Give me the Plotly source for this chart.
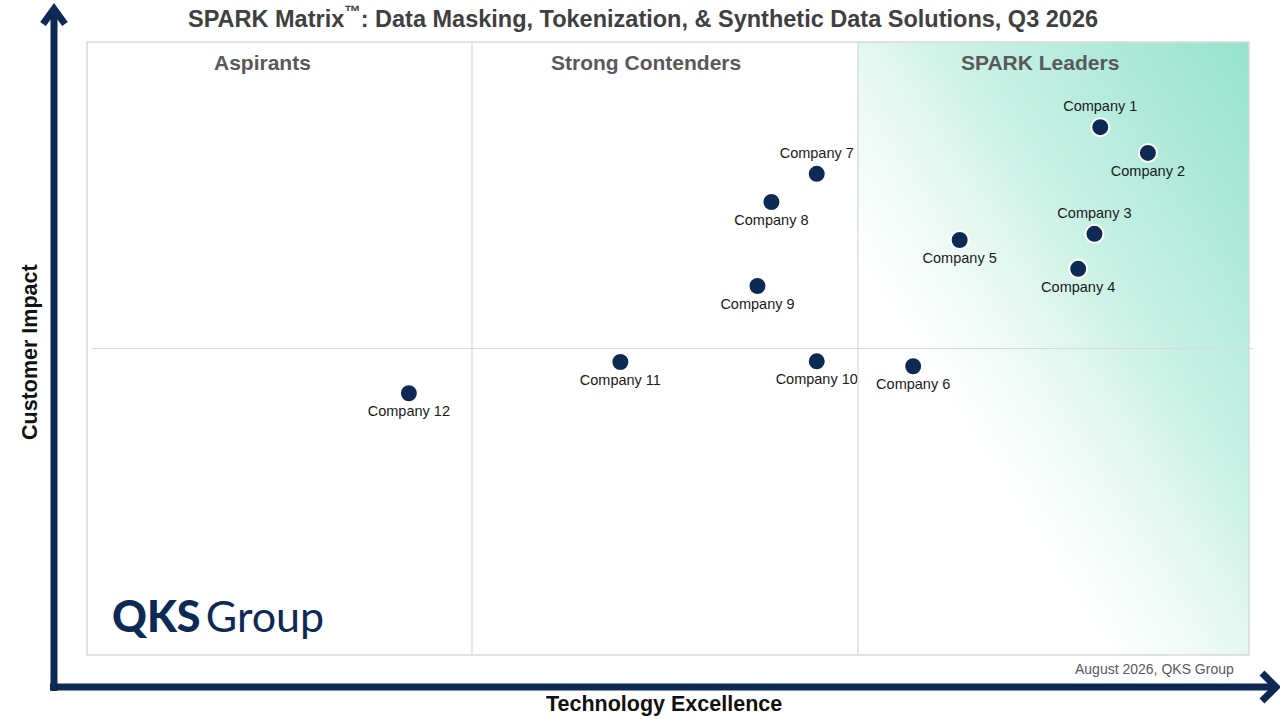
import base64
import plotly.graph_objects as go

# vendor positions (0-100 on both axes)
companies = ["Company 1", "Company 2", "Company 3", "Company 4", "Company 5", "Company 6",
             "Company 7", "Company 8", "Company 9", "Company 10", "Company 11", "Company 12"]
tech_excellence = [87.2, 91.3, 86.7, 85.3, 75.1, 71.1, 62.8, 58.9, 57.7, 62.8, 45.9, 27.7]
customer_impact = [86.1, 81.9, 68.7, 63.0, 67.7, 47.1, 78.5, 73.9, 60.2, 47.9, 47.8, 42.7]

quadrants = ["Aspirants", "Strong Contenders", "SPARK Leaders"]

# where each label sits relative to its dot
label_side = ["top center", "bottom center", "top center", "bottom center", "bottom center",
              "bottom center", "top center", "bottom center", "bottom center", "bottom center",
              "bottom center", "bottom center"]

NAVY = "#0d2a55"
FONT = "Arial, Liberation Sans, sans-serif"

W, H = 1280, 720
L, R, T, B = 87, 31, 42, 65


def px(x):
    return (x - L) / (W - L - R)


def py(y):
    return (H - B - y) / (H - T - B)


# quadrant borders on the x scale
cut_low, cut_high = 33.13, 66.35

# teal wash for the leaders quadrant
svg = """<svg xmlns="http://www.w3.org/2000/svg" width="100" height="100" viewBox="0 0 100 100" preserveAspectRatio="none">
<defs><linearGradient id="g" x1="1" y1="0" x2="0" y2="1">
<stop offset="0" stop-color="#97e3cd"/>
<stop offset="0.35" stop-color="#c6f0e3"/>
<stop offset="0.55" stop-color="#eefaf6"/>
<stop offset="0.68" stop-color="#ffffff"/>
<stop offset="1" stop-color="#ffffff"/>
</linearGradient></defs>
<rect x="0" y="0" width="100" height="100" fill="url(#g)"/></svg>"""
svg_uri = "data:image/svg+xml;base64," + base64.b64encode(svg.encode()).decode()

fig = go.Figure()
fig.add_trace(go.Scatter(
    x=tech_excellence, y=customer_impact, text=companies,
    mode="markers+text", textposition=label_side,
    marker=dict(size=18, color=NAVY, line=dict(color="white", width=2)),
    textfont=dict(family=FONT, size=14.5, color="#1a1a1a"),
    hoverinfo="text", showlegend=False, cliponaxis=False,
))

fig.add_layout_image(dict(
    source=svg_uri, xref="x", yref="y", x=cut_high, y=100, sizex=100 - cut_high, sizey=100,
    sizing="stretch", layer="below", xanchor="left", yanchor="top",
))

shapes = []
# frame and quadrant dividers
shapes.append(dict(type="rect", xref="paper", yref="paper", x0=0, x1=1, y0=0, y1=1,
                   line=dict(color="#d9d9d9", width=1.5)))
for xv in [cut_low, cut_high]:
    shapes.append(dict(type="line", xref="x", yref="paper", x0=xv, x1=xv, y0=0, y1=1,
                       line=dict(color="#d9d9d9", width=1.2)))
shapes.append(dict(type="line", xref="paper", yref="y", x0=px(92), x1=px(1253), y0=50, y1=50,
                   line=dict(color="#d9d9d9", width=1.2)))

# axis arrows
shapes.append(dict(type="line", xref="paper", yref="paper", x0=px(54), x1=px(54), y0=py(691), y1=py(10),
                   line=dict(color=NAVY, width=7)))
shapes.append(dict(type="path", xref="paper", yref="paper",
                   path=f"M {px(43)},{py(24)} L {px(54)},{py(9)} L {px(65)},{py(24)}",
                   line=dict(color=NAVY, width=7)))
shapes.append(dict(type="line", xref="paper", yref="paper", x0=px(50), x1=px(1274), y0=py(687), y1=py(687),
                   line=dict(color=NAVY, width=7)))
shapes.append(dict(type="path", xref="paper", yref="paper",
                   path=f"M {px(1262)},{py(673)} L {px(1276)},{py(687)} L {px(1262)},{py(701)}",
                   line=dict(color=NAVY, width=7)))

annotations = []
for q, cx in zip(quadrants, [262, 646, 1040]):
    annotations.append(dict(text=f"<b>{q}</b>", x=px(cx), xref="paper", y=py(62), yref="paper",
                            xanchor="center", yanchor="middle",
                            showarrow=False, font=dict(family=FONT, size=21, color="#595959")))

annotations.append(dict(text="<b>Customer Impact</b>", x=px(30), y=py(352), xref="paper", yref="paper",
                        xanchor="center", yanchor="middle",
                        textangle=-90, showarrow=False, font=dict(family=FONT, size=21.5, color="#111111")))
annotations.append(dict(text="<b>Technology Excellence</b>", x=px(664), y=py(704), xref="paper", yref="paper",
                        xanchor="center", yanchor="middle",
                        showarrow=False, font=dict(family=FONT, size=21.5, color="#111111")))
annotations.append(dict(text="August 2026, QKS Group", x=px(1236), y=py(669), xref="paper", yref="paper",
                        xanchor="right", yanchor="middle",
                        showarrow=False, font=dict(family=FONT, size=14, color="#595959")))
annotations.append(dict(text="<span style='font-weight:900'>QKS</span>\u2009Group", x=px(110), y=py(615),
                        xref="paper", yref="paper", xanchor="left", yanchor="middle", showarrow=False,
                        font=dict(family="Lato, Inter, sans-serif", size=43, color=NAVY)))

fig.update_layout(
    width=W, height=H,
    margin=dict(l=L, r=R, t=T, b=B),
    paper_bgcolor="white", plot_bgcolor="white",
    title=dict(text="<b>SPARK Matrix<sup>™</sup>: Data Masking, Tokenization, & Synthetic Data Solutions, Q3 2026</b>",
               x=643 / W, y=1 - 19 / H, xanchor="center", yanchor="middle",
               font=dict(family=FONT, size=23.5, color="#404040")),
    xaxis=dict(range=[0, 100], visible=False, fixedrange=True),
    yaxis=dict(range=[0, 100], visible=False, fixedrange=True),
    shapes=shapes,
    annotations=annotations,
)

fig.write_html("out.html", config={"displayModeBar": False},
               post_script="document.body.style.margin='0px';")
